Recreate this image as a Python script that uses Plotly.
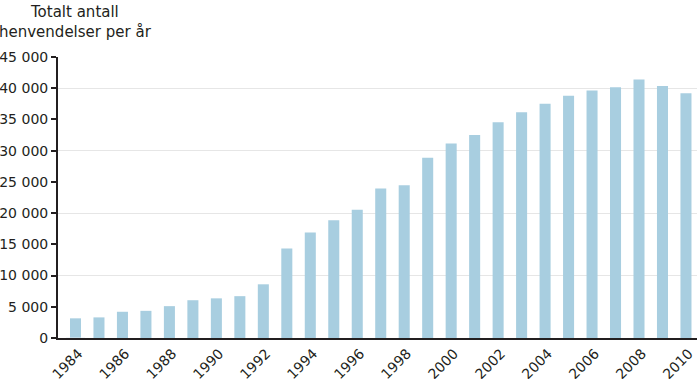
import plotly.graph_objects as go

years = list(range(1984, 2011))
values = [3150, 3300, 4200, 4350, 5100, 6050, 6350, 6700, 8600, 14350,
          16900, 18850, 20550, 23950, 24450, 28850, 31150, 32500, 34550,
          36150, 37500, 38800, 39650, 40150, 41400, 40350, 39200]
ytick_vals = [0, 5000, 10000, 15000, 20000, 25000, 30000, 35000, 40000, 45000]
ytick_text = ["0", "5 000", "10 000", "15 000", "20 000", "25 000", "30 000",
              "35 000", "40 000", "45 000"]
grid_vals = [10000, 20000, 30000, 40000]
xtick_vals = list(range(1984, 2011, 2))
title_text = "Totalt antall<br>henvendelser per år"

FONT = "DejaVu Sans"
INK = "#231f20"

fig = go.Figure()
fig.add_trace(go.Bar(x=years, y=values, width=0.47, marker_color="#a8cee0",
                     marker_line_width=0, yaxis="y"))
fig.add_trace(go.Bar(x=[years[0]], y=[0], yaxis="y2", showlegend=False,
                     hoverinfo="skip", marker_color="rgba(0,0,0,0)"))

fig.update_layout(
    width=700, height=379,
    margin=dict(l=58, r=3, t=57, b=41, autoexpand=False),
    plot_bgcolor="white", paper_bgcolor="white",
    showlegend=False,
    font=dict(family=FONT, size=14, color=INK),
    xaxis=dict(range=[1983.255, 2010.47], tickvals=xtick_vals,
               ticktext=[str(v) for v in xtick_vals], tickangle=-45,
               showline=True, linecolor=INK, linewidth=2, ticks="",
               showgrid=False, zeroline=False, tickfont=dict(size=14),
               ticklabelshift=3, automargin=False),
    yaxis=dict(range=[0, 45000], tickvals=ytick_vals, ticktext=ytick_text,
               showline=True, linecolor=INK, linewidth=2, ticks="outside",
               ticklen=5, tickwidth=2, tickcolor=INK, showgrid=False,
               zeroline=False, tickfont=dict(size=14), automargin=False),
    yaxis2=dict(range=[0, 45000], overlaying="y", side="right",
                tickvals=grid_vals, showticklabels=False, ticks="",
                showgrid=True, gridcolor="#e6e6e6", gridwidth=1,
                zeroline=False, showline=False, automargin=False),
    annotations=[dict(text=title_text, xref="paper", yref="paper",
                      x=0.028, y=1.2, xanchor="center", yanchor="top",
                      showarrow=False, align="center",
                      font=dict(family=FONT, size=15, color=INK))],
)

fig.write_html("out.html", config={"displayModeBar": False},
               post_script="document.body.style.margin='0';document.body.style.overflow='hidden';")
